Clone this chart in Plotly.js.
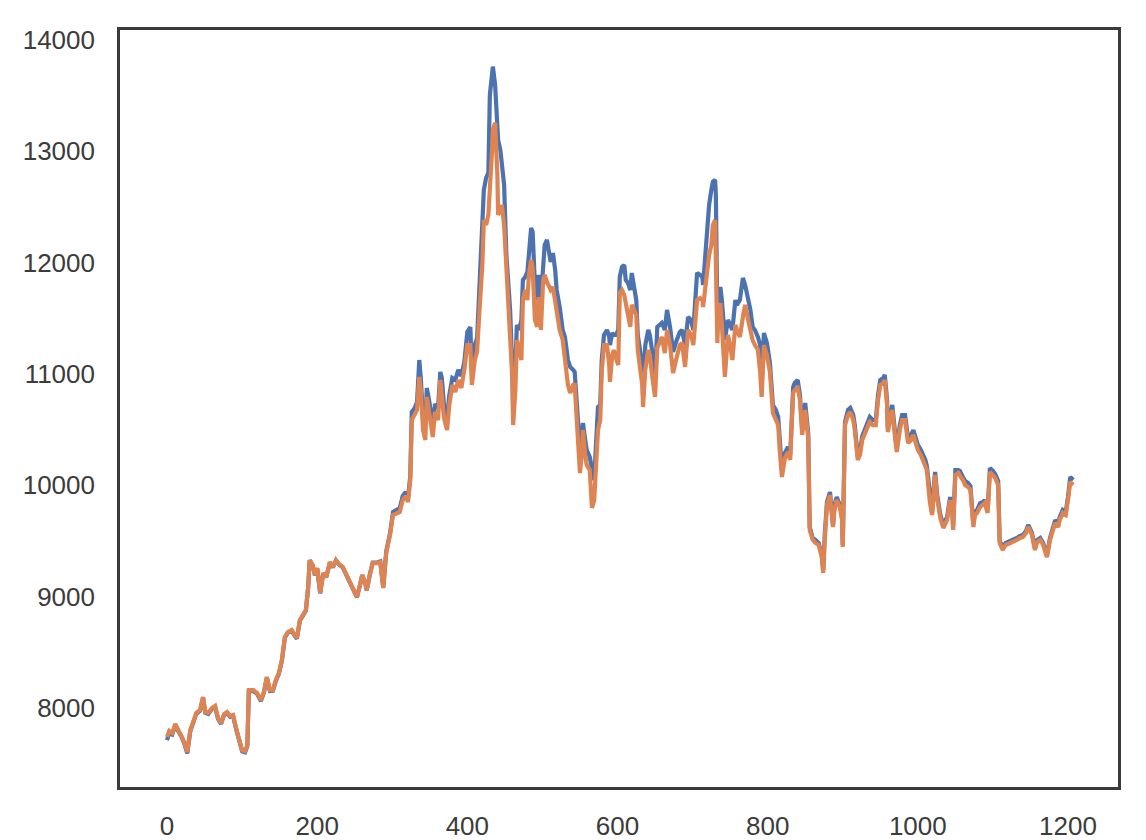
<!DOCTYPE html>
<html>
<head>
<meta charset="utf-8">
<script src="https://cdn.plot.ly/plotly-3.0.1.min.js"></script>
<style>html,body{margin:0;padding:0;background:#fff;}#chart{width:1146px;height:840px;}</style>
</head>
<body>
<div id="chart"></div>
<script>
// sample positions (index along x)
const steps = [
0,3,7,11,15,19,23,27,31,35,
39,44,48,51,55,60,64,68,72,76,
80,84,88,92,96,100,104,107,109,115,
120,125,129,133,137,141,145,149,153,157,
161,166,170,173,177,181,185,188,190,194,
197,200,204,208,212,217,221,225,229,234,
238,244,249,253,257,260,264,266,270,274,
280,284,286,288,292,297,301,306,310,314,
318,321,324,326,330,333,336,338,341,344,
346,349,352,354,357,361,364,366,369,373,
376,380,384,388,392,396,400,404,406,410,
413,417,420,422,425,428,430,433,434,437,
440,441,444,446,449,452,454,457,460,461,
464,466,469,472,474,477,480,482,485,487,
490,493,495,498,501,503,506,509,511,514,
517,519,523,527,530,534,537,541,543,546,
549,550,553,554,557,559,563,566,569,571,
574,577,579,582,586,589,590,593,595,598,
601,603,606,609,611,614,617,619,622,625,
627,630,633,634,637,641,643,646,650,653,
657,659,663,666,670,674,678,681,683,686,
690,694,698,701,703,706,710,713,714,717,
719,722,725,727,730,731,733,734,737,739,
743,747,750,753,757,759,763,767,770,774,
777,780,783,787,790,792,795,799,803,807,
811,814,816,819,823,827,830,832,834,836,
840,843,846,850,854,856,860,864,868,872,
874,876,879,883,887,889,892,896,899,900,
903,907,910,914,916,920,923,926,930,932,
936,940,944,947,950,954,956,959,960,963,
966,970,972,976,979,983,987,991,994,998,
1000,1004,1007,1010,1012,1016,1019,1022,1023,1026,
1030,1034,1036,1039,1043,1046,1047,1050,1054,1056,
1060,1063,1067,1070,1074,1076,1079,1083,1087,1089,
1093,1096,1100,1103,1107,1109,1113,1117,1123,1127,
1132,1136,1140,1144,1147,1149,1152,1156,1159,1163,
1167,1169,1172,1176,1180,1183,1187,1189,1193,1197,1200,1203,1207
];

// upper (blue) series
const seriesBlue = [
7710,7773,7760,7840,7790,7745,7680,7590,7790,7862,
7945,7972,8090,7955,7945,7990,8008,7900,7855,7935,
7955,7918,7927,7810,7700,7610,7600,7655,8150,8150,
8125,8060,8135,8270,8150,8152,8242,8305,8422,8630,
8675,8693,8648,8620,8782,8828,8872,9080,9325,9280,
9190,9253,9028,9208,9172,9305,9262,9323,9288,9262,
9208,9118,9055,8992,9100,9190,9118,9055,9192,9305,
9305,9315,9198,9082,9405,9565,9759,9777,9795,9902,
9938,9885,10082,10657,10693,10747,11124,10963,10603,10513,
10873,10765,10657,10540,10729,10693,11017,10963,10711,10603,
10810,10963,10945,11035,10981,11106,11376,11421,11017,11259,
11322,11888,12427,12652,12760,12805,13505,13685,13760,13595,
13164,13101,13011,12894,12697,12068,11825,11574,11035,10630,
11079,11439,11394,11484,11843,11870,11915,12113,12310,12274,
11798,11663,11888,11663,12050,12158,12203,12041,12005,12086,
11933,11753,11601,11394,11331,11124,11062,11035,11017,10720,
10406,10316,10495,10558,10406,10316,10253,10136,10046,10316,
10702,10720,11124,11349,11394,11331,11259,11367,11349,11349,
11394,11870,11960,11978,11843,11816,11753,11906,11798,11663,
11349,11187,11079,10810,11259,11394,11349,11214,10945,11421,
11439,11457,11394,11574,11421,11196,11286,11349,11376,11394,
11259,11511,11484,11394,11663,11906,11888,11870,11798,12113,
12319,12517,12652,12724,12742,12607,11484,11663,11780,11663,
11304,11484,11439,11394,11663,11619,11663,11861,11798,11690,
11574,11421,11394,11331,11259,10900,11367,11277,11097,10720,
10675,10612,10379,10136,10289,10343,10271,10522,10882,10918,
10945,10810,10495,10738,10468,9624,9525,9507,9480,9372,
9238,9552,9849,9938,9642,9822,9893,9822,9732,9462,
10567,10675,10693,10630,10540,10253,10316,10442,10513,10558,
10612,10585,10585,10810,10945,10963,10990,10765,10513,10630,
10720,10451,10334,10540,10630,10630,10424,10451,10495,10406,
10361,10316,10271,10226,10172,9885,9759,10046,10118,9902,
9732,9642,9669,9714,9893,9759,9624,10136,10136,10127,
10073,10037,10019,9992,9651,9759,9777,9839,9849,9866,
9777,10154,10127,10100,10037,9498,9444,9480,9498,9507,
9525,9543,9552,9588,9642,9615,9570,9435,9507,9525,
9480,9435,9372,9525,9624,9687,9651,9714,9777,9759,9893,10073,10046
];

// lower (orange) series
const seriesOrange = [
7737,7791,7773,7854,7800,7755,7692,7602,7800,7872,
7953,7980,8096,7962,7953,7998,8016,7908,7863,7944,
7962,7926,7935,7818,7710,7620,7611,7665,8159,8159,
8132,8069,8141,8276,8159,8159,8249,8312,8429,8636,
8680,8698,8654,8627,8788,8833,8878,9085,9327,9282,
9193,9256,9031,9211,9175,9309,9265,9327,9291,9265,
9211,9121,9058,8995,9103,9193,9121,9058,9193,9300,
9300,9309,9193,9076,9390,9552,9732,9750,9759,9866,
9902,9849,10046,10585,10630,10675,10972,10855,10495,10406,
10792,10675,10540,10433,10657,10585,10945,10837,10603,10495,
10720,10900,10837,10945,10873,11035,11259,11259,10900,11124,
11196,11663,11978,12382,12337,12427,12625,13011,13191,13254,
12787,12427,12472,12517,12337,11978,11663,11394,10945,10540,
10855,11304,11214,11124,11663,11753,11663,11888,12023,11951,
11484,11421,11690,11394,11843,11888,11825,11780,11753,11780,
11663,11556,11394,11304,11124,10900,10828,10900,10900,10585,
10226,10109,10316,10495,10271,10181,10136,9795,9866,10136,
10495,10585,11017,11259,11259,11079,10927,11169,11214,11142,
11079,11726,11753,11708,11619,11529,11421,11619,11574,11529,
11214,11017,10900,10702,11035,11214,11169,10990,10792,11232,
11304,11331,11187,11394,11259,11008,11124,11214,11259,11277,
11062,11394,11349,11259,11439,11663,11681,11663,11601,11798,
11960,12068,12158,12337,12382,12068,11277,11484,11637,11439,
10972,11349,11259,11124,11439,11394,11331,11511,11619,11484,
11394,11304,11259,11214,11017,10792,11259,11169,11017,10648,
10585,10540,10316,10073,10244,10298,10226,10495,10828,10855,
10873,10765,10451,10675,10424,9597,9507,9480,9462,9354,
9211,9507,9822,9911,9624,9777,9866,9804,9687,9444,
10540,10630,10657,10585,10495,10226,10271,10406,10477,10513,
10567,10540,10540,10765,10900,10918,10945,10720,10477,10585,
10675,10406,10298,10495,10585,10585,10379,10406,10451,10361,
10316,10271,10226,10181,10136,9849,9732,10001,10091,9866,
9705,9615,9642,9687,9866,9732,9597,10091,10109,10091,
10046,10001,9983,9956,9624,9732,9750,9804,9822,9839,
9750,10118,10091,10064,10001,9480,9417,9462,9480,9489,
9507,9525,9534,9570,9624,9597,9552,9417,9489,9507,
9462,9417,9354,9507,9597,9660,9624,9687,9750,9732,9866,10028,10001
];

const xTicks = [0, 200, 400, 600, 800, 1000, 1200];
const yTicks = [8000, 9000, 10000, 11000, 12000, 13000, 14000];

const traces = [
  {x: steps, y: seriesBlue, type: 'scatter', mode: 'lines',
   line: {color: '#4c72b0', width: 4.2}, hoverinfo: 'skip'},
  {x: steps, y: seriesOrange, type: 'scatter', mode: 'lines',
   line: {color: '#dd8452', width: 4.2}, hoverinfo: 'skip'}
];

const axisCommon = {
  showgrid: false, zeroline: false, showline: true, mirror: true,
  linecolor: '#3a3a3a', linewidth: 2.8,
  ticks: 'outside', tickcolor: 'rgba(0,0,0,0)',
  tickfont: {family: 'Liberation Sans, Arial, sans-serif', size: 26, color: '#3b3b3b'},
  tickformat: 'd'
};

const layout = {
  width: 1146, height: 840,
  margin: {l: 120, r: 28, t: 30, b: 53},
  paper_bgcolor: '#ffffff', plot_bgcolor: '#ffffff',
  showlegend: false,
  xaxis: Object.assign({}, axisCommon, {
    range: [-62.6, 1266.6], tickvals: xTicks, ticklen: 14
  }),
  yaxis: Object.assign({}, axisCommon, {
    range: [7288, 14089], tickvals: yTicks, ticklen: 17
  })
};

Plotly.newPlot('chart', traces, layout, {displayModeBar: false, staticPlot: true});
</script>
</body>
</html>
